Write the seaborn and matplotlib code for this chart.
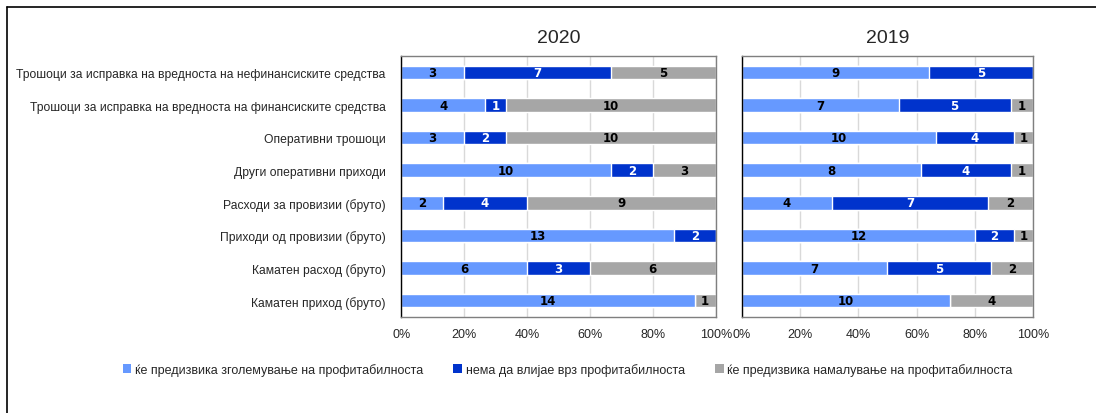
import pandas as pd
import seaborn as sns
import matplotlib.pyplot as plt
from matplotlib import font_manager
from matplotlib.patches import Patch
from matplotlib.lines import Line2D

# Categories (top to bottom)
categories = [
    'Трошоци за исправка на вредноста на нефинансиските средства',
    'Трошоци за исправка на вредноста на финансиските средства',
    'Оперативни трошоци',
    'Други оперативни приходи',
    'Расходи за провизии (бруто)',
    'Приходи од провизии (бруто)',
    'Каматен расход (бруто)',
    'Каматен приход (бруто)',
]

# Counts of banks per answer
increase_2020 = [3, 4, 3, 10, 2, 13, 6, 14]
neutral_2020 = [7, 1, 2, 2, 4, 2, 3, 0]
decrease_2020 = [5, 10, 10, 3, 9, 0, 6, 1]

increase_2019 = [9, 7, 10, 8, 4, 12, 7, 10]
neutral_2019 = [5, 5, 4, 4, 7, 2, 5, 0]
decrease_2019 = [0, 1, 1, 1, 2, 1, 2, 4]

series_names = [
    'ќе предизвика зголемување на профитабилноста',
    'нема да влијае врз профитабилноста',
    'ќе предизвика намалување на профитабилноста',
]
colors = ['#6699FF', '#0033CC', '#A6A6A6']
text_colors = ['black', 'white', 'black']

installed = {f.name for f in font_manager.fontManager.ttflist}
narrow = 'Liberation Sans Narrow' if 'Liberation Sans Narrow' in installed else 'Liberation Sans'


def build_frame(inc, neu, dec):
    df = pd.DataFrame({'category': categories, 'inc': inc, 'neu': neu, 'dec': dec})
    total = df[['inc', 'neu', 'dec']].sum(axis=1)
    df['p_inc'] = df['inc'] / total * 100
    df['p_neu'] = df['neu'] / total * 100
    df['p_dec'] = df['dec'] / total * 100
    df['c1'] = df['p_inc']
    df['c2'] = df['p_inc'] + df['p_neu']
    df['c3'] = df['c2'] + df['p_dec']
    return df


def draw_panel(ax, df, title, show_labels):
    # stacked bars drawn as overlapping cumulative bars
    for col, c in zip(['c3', 'c2', 'c1'], colors[::-1]):
        sns.barplot(data=df, y='category', x=col, color=c, width=0.42,
                    saturation=1, ax=ax, orient='h')

    for i, row in df.iterrows():
        lefts = [0, row['c1'], row['c2']]
        widths = [row['p_inc'], row['p_neu'], row['p_dec']]
        counts = [row['inc'], row['neu'], row['dec']]
        for k in range(3):
            if counts[k] > 0:
                ax.text(lefts[k] + widths[k] / 2, i, str(counts[k]), ha='center', va='center',
                        fontsize=8.5, fontweight='bold', color=text_colors[k],
                        family='DejaVu Sans')

    ax.set_xlim(0, 100)
    ax.set_ylim(7.5, -0.5)
    ax.set_xticks(range(0, 101, 20))
    ax.set_xticklabels([f'{v}%' for v in range(0, 101, 20)], fontsize=9)
    ax.set_xlabel('')
    ax.set_ylabel('')
    ax.set_title(title, fontsize=14, pad=10, family=narrow)
    ax.grid(axis='x', color='#D9D9D9', linewidth=1)
    ax.grid(axis='y', visible=False)
    ax.set_axisbelow(True)
    ax.tick_params(axis='x', length=0, pad=8)
    ax.tick_params(axis='y', length=0, pad=11)
    if show_labels:
        ax.set_yticks(range(len(categories)))
        ax.set_yticklabels(categories, fontsize=8.75)
    else:
        ax.set_yticks([])
    for s in ax.spines.values():
        s.set_visible(True)
        s.set_color('#7F7F7F')
        s.set_linewidth(1)
    ax.spines['left'].set_color('black')


sns.set_theme(style='white')
plt.rcParams['font.family'] = ['Liberation Sans', 'DejaVu Sans']

fig = plt.figure(figsize=(10.96, 4.14), dpi=100)
ax1 = fig.add_axes([0.366, 0.232, 0.287, 0.630])
ax2 = fig.add_axes([0.677, 0.232, 0.2655, 0.630])

draw_panel(ax1, build_frame(increase_2020, neutral_2020, decrease_2020), '2020', True)
draw_panel(ax2, build_frame(increase_2019, neutral_2019, decrease_2019), '2019', False)

handles = [Patch(facecolor=c, edgecolor='none') for c in colors]
fig.legend(handles, series_names, loc='center', bbox_to_anchor=(0.518, 0.106), ncol=3,
           frameon=False, fontsize=9, handlelength=0.7, handleheight=0.7,
           handletextpad=0.3, columnspacing=2.4)

# outer frame lines (top and left)
fig.add_artist(Line2D([0.0064, 1.0], [0.981, 0.981], color='black', linewidth=1.2,
                      transform=fig.transFigure))
fig.add_artist(Line2D([0.0064, 0.0064], [0.0, 0.981], color='black', linewidth=1.2,
                      transform=fig.transFigure))

fig.savefig('out.png', dpi=100)
